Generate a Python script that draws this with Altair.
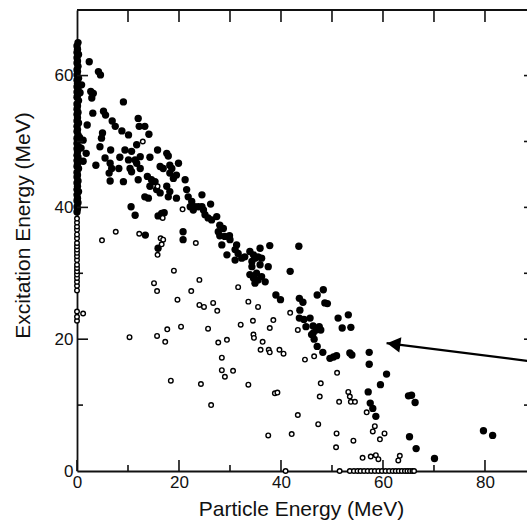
import altair as alt
import pandas as pd

FONT = "Liberation Sans"
W, H = 450, 461
X_MAX, Y_MAX = 88.24, 69.95

# ---- filled circles ----
stack_fx = [0.0, 0.1, 0.0, 0.2, 0.0, 0.1, 0.0, 0.3, 0.0, 0.1, 0.0, 0.2, 0.0, 0.1, 0.0, 0.3,
            0.0, 0.1, 0.0, 0.2, 0.0, 0.1, 0.0, 0.3, 0.0, 0.1, 0.0, 0.2, 0.0, 0.1, 0.0, 0.3,
            0.0, 0.1, 0.0, 0.2, 0.0, 0.1, 0.0, 0.3, 0.0, 0.1, 0.0, 0.2, 0.0, 0.1, 0.0, 0.3,
            0.0, 0.1, 0.0, 0.2, 0.0, 0.1, 0.0, 0.3, 0.0, 0.1, 0.0, 0.2]
stack_fy = [39.3, 39.8, 40.1, 40.7, 41.0, 41.4, 41.9, 42.4, 42.7, 43.2, 43.7, 44.0, 44.6, 44.9, 45.3, 45.9,
            46.2, 46.6, 47.1, 47.6, 47.9, 48.4, 48.9, 49.2, 49.7, 50.2, 50.5, 51.0, 51.5, 51.8, 52.3, 52.8,
            53.1, 53.6, 54.1, 54.4, 54.9, 55.4, 55.7, 56.2, 56.7, 57.0, 57.5, 58.0, 58.3, 58.8, 59.3, 59.6,
            60.1, 60.6, 60.9, 61.4, 61.9, 62.2, 62.7, 63.2, 63.5, 64.0, 64.5, 65.0]

fill_x = [2.4, 4.2, 4.6, 0.9, 2.7, 3.2, 2.9, 9.1, 3.1, 2.0, 5.2, 5.6, 6.9, 7.5, 8.8, 10.1,
          12.0, 12.2, 13.3, 14.1, 5.0, 4.8, 4.5, 1.2, 1.8, 1.2, 3.7, 6.6, 5.5, 6.5, 6.8, 6.3,
          6.5, 9.4, 10.7, 10.1, 11.4, 10.4, 10.7, 8.4, 8.2, 9.1, 11.7, 12.4, 11.7, 12.4, 12.0, 14.3,
          13.8, 14.6, 15.8, 17.6, 17.9, 16.3, 16.9, 15.3, 18.2, 18.6, 19.9, 19.5, 18.2, 18.9, 14.3, 15.6,
          16.3, 17.6, 18.2, 17.9, 19.5, 21.2, 21.5, 21.8, 13.3, 14.0, 10.6, 0.6, 0.5, 0.8,
          11.4, 15.9, 16.6, 17.1, 13.4, 15.9,
          22.5, 23.1, 23.8, 24.5, 24.5, 24.8, 22.2, 22.8, 25.1, 25.7, 26.4, 27.4, 26.2, 20.8, 20.8, 28.0,
          28.7, 27.7, 28.0, 29.0, 28.4, 29.9, 30.0, 29.4, 31.3, 31.0, 31.6, 31.0, 32.3, 32.9, 33.9, 34.6,
          34.3, 34.3, 34.9, 35.9, 35.5, 36.2, 35.9, 37.8, 37.5, 33.9, 34.6, 35.2, 35.5, 36.2, 36.9, 34.9,
          41.8, 43.5,
          39.0, 39.9, 43.6, 44.3, 48.3, 47.1, 48.6, 49.1, 43.7, 43.6, 44.5, 45.7, 44.9, 46.3, 46.9, 47.5,
          47.8, 46.0, 46.5, 46.3, 47.1, 48.2, 49.6, 50.3, 50.9, 51.2, 52.0, 53.2, 53.7, 53.5, 53.9, 57.3,
          57.3, 60.7,
          59.5, 57.1, 57.5, 58.0, 58.6, 65.0, 65.6, 66.3, 65.2, 66.5, 70.1, 79.7, 81.5]
fill_y = [62.1, 60.6, 60.1, 58.6, 57.6, 57.3, 56.6, 56.0, 54.3, 52.5, 54.6, 54.0, 53.1, 52.3, 51.6, 51.0,
          53.5, 52.3, 52.3, 51.1, 51.3, 50.5, 49.2, 50.2, 48.2, 47.0, 46.4, 48.7, 47.5, 46.7, 45.9, 45.2,
          44.0, 48.7, 48.5, 47.2, 47.2, 45.9, 45.4, 47.6, 45.9, 43.9, 49.5, 47.7, 46.7, 45.9, 44.2, 47.6,
          44.7, 44.2, 48.7, 48.2, 47.8, 46.2, 45.9, 43.9, 46.4, 45.9, 46.7, 44.9, 45.2, 44.4, 43.2, 42.7,
          42.2, 43.2, 42.4, 41.6, 41.4, 44.2, 42.7, 41.6, 41.6, 41.4, 40.1, 57.4, 50.6, 49.0,
          38.8, 38.7, 39.1, 39.2, 35.8, 33.8,
          40.9, 40.1, 40.1, 41.9, 40.1, 39.6, 40.1, 39.6, 38.9, 38.4, 38.1, 38.6, 40.5, 36.3, 35.1, 37.3,
          36.8, 36.3, 35.7, 35.6, 34.3, 35.7, 35.1, 32.8, 34.3, 33.6, 33.0, 32.0, 32.3, 32.5, 33.3, 32.8,
          31.8, 31.0, 32.3, 33.8, 32.5, 32.3, 31.3, 34.2, 31.0, 29.8, 29.3, 30.0, 29.0, 29.5, 28.7, 28.5,
          30.3, 34.1,
          26.7, 26.0, 26.2, 25.6, 27.5, 26.7, 25.5, 25.4, 24.4, 23.2, 23.0, 23.2, 21.9, 22.0, 21.4, 21.9,
          21.4, 20.7, 20.0, 20.9, 18.9, 18.0, 17.1, 17.3, 17.5, 23.2, 21.7, 23.7, 21.8, 17.9, 17.6, 18.0,
          16.2, 14.7,
          13.1, 12.0, 10.3, 9.5, 8.3, 11.4, 11.5, 10.4, 5.2, 3.4, 1.9, 6.1, 5.4]

# ---- open circles ----
stack_oy = [22.8, 23.4, 24.2, 27.4, 28.1, 28.7, 29.3, 29.8, 30.3, 30.8, 31.3, 32.0, 32.6, 33.1,
            33.6, 34.1, 34.6, 35.3, 35.9, 36.6, 37.1, 37.7, 38.3]
floor_ox = [40.9, 51.5, 53.5, 54.3, 55.0, 55.6, 56.3, 57.0, 57.7, 58.4, 59.1, 59.8, 60.5, 61.2,
            61.9, 62.5, 63.1, 63.7, 64.3, 64.8, 65.3, 65.8, 66.1]
open_x = [1.2, 12.9, 15.8, 20.7, 16.8, 4.9, 7.6, 12.2, 16.4, 16.9, 16.6, 15.8, 23.3, 19.0, 24.0, 31.6,
          15.1, 15.7, 19.7, 22.4, 24.0, 24.9, 10.3, 15.7, 17.3, 17.7, 20.4, 18.4, 24.3, 26.7, 27.5, 25.7,
          27.7, 29.4, 28.4, 28.4, 29.0, 30.6, 26.3, 33.6, 35.5, 32.1, 34.5, 34.6, 34.7, 36.4, 36.0, 37.6,
          37.8, 39.7, 40.5, 38.5, 37.8, 33.6, 38.8, 39.3, 41.8, 43.3, 44.7, 46.5, 51.0, 47.8, 47.6, 43.3,
          47.3, 37.5, 42.1, 53.2, 53.5, 53.7, 54.5, 51.4, 56.8, 58.4, 58.0, 60.3, 59.4, 50.9, 50.8, 54.2,
          56.0, 57.6, 58.6, 59.1, 63.3, 63.0]
open_y = [23.9, 50.0, 43.2, 39.7, 38.4, 35.0, 36.3, 36.0, 35.3, 35.1, 34.4, 32.8, 34.6, 30.4, 29.0, 27.9,
          28.5, 27.3, 26.0, 27.3, 25.2, 24.9, 20.3, 20.5, 19.6, 21.5, 21.9, 13.7, 13.2, 25.5, 24.3, 21.6,
          19.5, 19.9, 17.2, 15.3, 14.3, 15.2, 10.0, 25.7, 24.9, 22.2, 22.8, 20.7, 20.2, 19.6, 18.4, 18.4,
          18.0, 18.4, 17.8, 22.9, 21.7, 13.1, 11.8, 11.9, 24.0, 21.4, 16.9, 17.4, 14.9, 13.3, 11.3, 8.5,
          7.1, 5.4, 5.6, 12.0, 11.3, 10.5, 10.5, 10.5, 8.9, 6.8, 6.0, 5.7, 4.8, 5.7, 3.6, 4.6,
          2.0, 2.2, 2.4, 1.8, 2.3, 1.6]

# ---- axis ticks & annotation ----
x_major = [0, 20, 40, 60, 80]
x_minor = [10, 30, 50, 70]
x_all = [10, 20, 30, 40, 50, 60, 70, 80]
y_major = [20, 40, 60]
y_minor = [10, 30, 50]
y_all = [10, 20, 30, 40, 50, 60]
arrow_x = [60.7]
arrow_y = [19.4]
arrow_x2 = [88.4]
arrow_y2 = [16.7]
head_x = [62.1]
head_y = [19.26]

df_fill = pd.DataFrame({"x": stack_fx + fill_x, "y": stack_fy + fill_y})
df_open = pd.DataFrame({"x": [0.0] * len(stack_oy) + floor_ox + open_x,
                        "y": stack_oy + [0.0] * len(floor_ox) + open_y})

xs = alt.Scale(domain=[0, X_MAX], nice=False, zero=False)
ys = alt.Scale(domain=[0, Y_MAX], nice=False, zero=False)

x_axis = alt.Axis(values=x_major, title="Particle Energy (MeV)", ticks=False, tickSize=0,
                  grid=False, domainColor="#111", domainWidth=1.8, labelFont=FONT,
                  labelFontSize=17, labelColor="#111", labelPadding=3, titleFont=FONT,
                  titleFontSize=21, titleFontWeight="normal", titleColor="#111",
                  titleBaseline="alphabetic", titleY=44, titleX=224, labelFlush=False)
y_axis = alt.Axis(values=[0, 20, 40, 60], title="Excitation Energy (MeV)", ticks=False, tickSize=0,
                  grid=False, domainColor="#111", domainWidth=1.8, labelFont=FONT,
                  labelFontSize=17, labelColor="#111", labelPadding=4, titleFont=FONT,
                  titleFontSize=21, titleFontWeight="normal", titleColor="#111",
                  titleX=-54, titleY=215, titleBaseline="middle", titleAlign="center",
                  labelFlush=False)

filled = alt.Chart(df_fill).mark_circle(size=54, color="black", opacity=1).encode(
    x=alt.X("x:Q", scale=xs, axis=x_axis),
    y=alt.Y("y:Q", scale=ys, axis=y_axis),
)
opened = alt.Chart(df_open).mark_point(shape="circle", size=21, stroke="black", strokeWidth=1.4,
                                       fill="white", fillOpacity=1, opacity=1).encode(
    x=alt.X("x:Q", scale=xs, axis=None),
    y=alt.Y("y:Q", scale=ys, axis=None),
)

def vticks(vals, y0, y1):
    return alt.Chart(pd.DataFrame({"v": vals})).mark_rule(color="#111", strokeWidth=1.6).encode(
        x=alt.X("v:Q", scale=xs, axis=None), y=alt.value(y0), y2=alt.value(y1))

def hticks(vals, x0, x1):
    return alt.Chart(pd.DataFrame({"v": vals})).mark_rule(color="#111", strokeWidth=1.6).encode(
        y=alt.Y("v:Q", scale=ys, axis=None), x=alt.value(x0), x2=alt.value(x1))

top_line = alt.Chart(pd.DataFrame({"v": [0]})).mark_rule(color="#111", strokeWidth=1.8).encode(
    x=alt.value(0), x2=alt.value(W + 2), y=alt.value(0))

df_arrow = pd.DataFrame({"x": arrow_x, "y": arrow_y, "x2": arrow_x2, "y2": arrow_y2})
arrow = alt.Chart(df_arrow).mark_rule(color="black", strokeWidth=2.2).encode(
    x=alt.X("x:Q", scale=xs, axis=None), y=alt.Y("y:Q", scale=ys, axis=None),
    x2="x2:Q", y2="y2:Q")
head = alt.Chart(pd.DataFrame({"x": head_x, "y": head_y})).mark_point(
    shape="triangle-left", size=240, filled=True, color="black", opacity=1, angle=7.5).encode(
    x=alt.X("x:Q", scale=xs, axis=None), y=alt.Y("y:Q", scale=ys, axis=None))

chart = alt.layer(
    filled, top_line,
    vticks(x_major, H, H - 11), vticks(x_minor, H, H - 6), vticks(x_all, 0, 12),
    hticks(y_major, 0, 11), hticks(y_minor, 0, 6), hticks(y_all, W - 3, W + 2),
    opened, arrow, head,
).resolve_axis(x="independent", y="independent").properties(
    width=W, height=H,
    padding={"left": 77, "top": 10, "right": 0, "bottom": 50},
    autosize=alt.AutoSizeParams(type="none"),
).configure_view(stroke=None).configure(background="white")

chart.save("out.html", embed_options={"renderer": "svg", "actions": False})
